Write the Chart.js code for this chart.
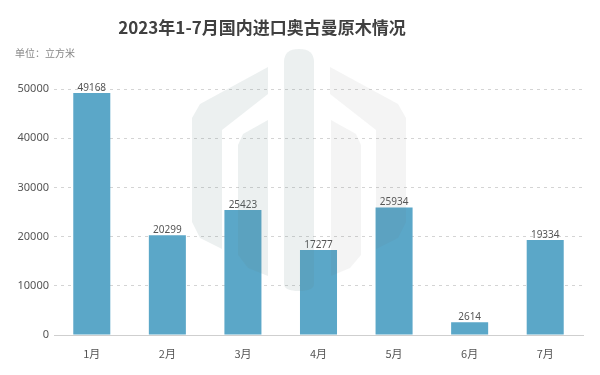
<!DOCTYPE html>
<html>
<head>
<meta charset="utf-8">
<script src="https://cdn.jsdelivr.net/npm/chart.js@4.4.1/dist/chart.umd.min.js"></script>
<style>
    html, body { margin: 0; padding: 0; background: #fff; }
    .wrap { position: relative; width: 600px; height: 375px; overflow: hidden; }
    .title {
        position: absolute; left: 0; top: 14px; width: 524px; text-align: center;
        font: bold 17px "Noto Sans CJK SC", sans-serif; color: #404040;
    }
    .unit {
        position: absolute; left: 15px; top: 45px;
        font: 10px "Noto Sans CJK SC", sans-serif; color: #888;
    }
    canvas { position: absolute; left: 0; top: 0; }
</style>
</head>
<body>
<div class="wrap">
    <canvas id="chart" width="600" height="375"></canvas>
    <div class="title">2023年1-7月国内进口奥古曼原木情况</div>
    <div class="unit">单位：立方米</div>
</div>
<script>
// ==================== Data ====================
const months = ['1月', '2月', '3月', '4月', '5月', '6月', '7月'];
const volumes = [49168, 20299, 25423, 17277, 25934, 2614, 19334];
const yTicks = [0, 10000, 20000, 30000, 40000, 50000];

const BAR_COLOR = '#5ba7c8';

// ==================== Plugins ====================
// value above each bar
const valueLabels = {
    id: 'valueLabels',
    afterDatasetsDraw(chart) {
        const ctx = chart.ctx;
        const meta = chart.getDatasetMeta(0);
        ctx.save();
        ctx.font = '10px "Noto Sans", sans-serif';
        ctx.fillStyle = '#555';
        ctx.textAlign = 'center';
        ctx.textBaseline = 'bottom';
        meta.data.forEach((bar, i) => {
            ctx.fillText(String(volumes[i]), bar.x, bar.y);
        });
        ctx.restore();
    }
};

// faint logo watermark across the middle
const watermark = {
    id: 'watermark',
    afterDraw(chart) {
        const ctx = chart.ctx;
        const poly = (pts, fill) => {
            ctx.beginPath();
            ctx.moveTo(pts[0][0], pts[0][1]);
            pts.slice(1).forEach(p => ctx.lineTo(p[0], p[1]));
            ctx.closePath();
            ctx.fillStyle = fill;
            ctx.fill();
        };
        ctx.save();
        const dark = 'rgba(100,135,135,0.12)';
        const light = 'rgba(120,120,120,0.08)';
        // centre pill
        ctx.beginPath();
        ctx.moveTo(284, 62);
        ctx.quadraticCurveTo(284, 49, 299, 49);
        ctx.quadraticCurveTo(314, 49, 314, 62);
        ctx.lineTo(314, 284);
        ctx.quadraticCurveTo(314, 291, 299, 291);
        ctx.quadraticCurveTo(284, 291, 284, 284);
        ctx.closePath();
        ctx.fillStyle = dark;
        ctx.fill();
        // left outer band
        poly([[268,67],[200,104],[192,118],[192,222],[200,238],[222,249],[222,130],[268,94]], dark);
        // left inner band
        poly([[268,120],[243,134],[238,145],[238,255],[248,268],[268,276]], dark);
        // right outer band
        poly([[330,67],[398,104],[406,118],[406,222],[398,238],[376,249],[376,130],[330,94]], light);
        // right inner band
        poly([[331,120],[356,134],[361,145],[361,255],[350,268],[331,276]], light);
        ctx.restore();
    }
};

// ==================== Chart ====================
new Chart(document.getElementById('chart').getContext('2d'), {
    type: 'bar',
    data: {
        labels: months,
        datasets: [{
            data: volumes,
            backgroundColor: BAR_COLOR,
            barPercentage: 0.49,
            categoryPercentage: 1
        }]
    },
    options: {
        responsive: false,
        animation: false,
        layout: { padding: { left: 0, right: 17, top: 89, bottom: 0 } },
        plugins: { legend: { display: false }, tooltip: { enabled: false } },
        scales: {
            x: {
                grid: { display: false },
                border: { display: true, color: '#cfcfcf', width: 1 },
                ticks: { color: '#555', font: { size: 11, family: '"Noto Sans CJK SC", sans-serif' }, padding: 4 },
                afterFit: s => { s.height = 40; }
            },
            y: {
                min: 0, max: 50000,
                afterBuildTicks: s => { s.ticks = yTicks.map(v => ({ value: v })); },
                grid: { color: '#d4d4d4', drawTicks: false, lineWidth: 1 },
                border: { display: false, dash: [3, 4] },
                ticks: {
                    color: '#555', padding: 5,
                    font: { size: 11, family: '"Noto Sans", sans-serif' },
                    callback: v => String(v)
                },
                afterFit: s => { s.width = 54; }
            }
        }
    },
    plugins: [valueLabels, watermark]
});
</script>
</body>
</html>
